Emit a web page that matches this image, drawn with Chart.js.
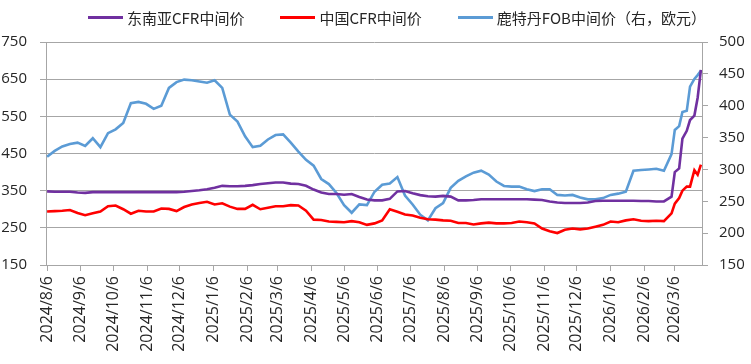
<!DOCTYPE html>
<html>
<head>
<meta charset="utf-8">
<script src="https://cdn.jsdelivr.net/npm/chart.js@4.4.1/dist/chart.umd.min.js"></script>
<style>
    body { margin: 0; background: #fff; }
    #wrap { position: relative; width: 751px; height: 364px; }
    #legend { position: absolute; top: 7px; left: 88px; display: flex; align-items: center;
        font-family: "Noto Sans CJK SC", sans-serif; font-size: 15px; color: #262626; white-space: nowrap; }
    .item { display: flex; align-items: center; margin-right: 36px; }
    .swatch { width: 35px; height: 3px; margin-right: 4px; }
</style>
</head>
<body>
<div id="wrap">
    <canvas id="chart" width="751" height="364"></canvas>
    <div id="legend"></div>
</div>
<script>
// weekly observation dates (denser in the last month)
const dates = [
    '2024-08-06','2024-08-13','2024-08-20','2024-08-27','2024-09-03','2024-09-10','2024-09-17','2024-09-24','2024-10-01','2024-10-08',
    '2024-10-15','2024-10-22','2024-10-29','2024-11-05','2024-11-12','2024-11-19','2024-11-26','2024-12-03','2024-12-10','2024-12-17',
    '2024-12-24','2024-12-31','2025-01-07','2025-01-14','2025-01-21','2025-01-28','2025-02-04','2025-02-11','2025-02-18','2025-02-25',
    '2025-03-04','2025-03-11','2025-03-18','2025-03-25','2025-04-01','2025-04-08','2025-04-15','2025-04-22','2025-04-29','2025-05-06',
    '2025-05-13','2025-05-20','2025-05-27','2025-06-03','2025-06-10','2025-06-17','2025-06-24','2025-07-01','2025-07-08','2025-07-15',
    '2025-07-22','2025-07-29','2025-08-05','2025-08-12','2025-08-19','2025-08-26','2025-09-02','2025-09-09','2025-09-16','2025-09-23',
    '2025-09-30','2025-10-07','2025-10-14','2025-10-21','2025-10-28','2025-11-04','2025-11-11','2025-11-18','2025-11-25','2025-12-02',
    '2025-12-09','2025-12-16','2025-12-23','2025-12-30','2026-01-06','2026-01-13','2026-01-20','2026-01-27','2026-02-03','2026-02-10',
    '2026-02-17','2026-02-24','2026-03-03','2026-03-06','2026-03-10','2026-03-13','2026-03-17','2026-03-20','2026-03-24','2026-03-27',
    '2026-03-30'
];
// 东南亚CFR中间价 (left axis)
const seAsia = [
    348, 347, 347, 347, 345, 344, 346, 346, 346, 346,
    346, 346, 346, 346, 346, 346, 346, 346, 347, 349,
    351, 354, 358, 363, 362, 362, 363, 365, 368, 370,
    372, 372, 369, 368, 363, 353, 345, 341, 341, 339,
    341, 333, 326, 324, 324, 328, 348, 349, 343, 338,
    335, 334, 336, 334, 324, 324, 325, 327, 327, 327,
    327, 327, 327, 327, 326, 325, 321, 318, 317, 317,
    317, 318, 322, 323, 323, 323, 323, 323, 322, 322,
    321, 321, 334, 400, 410, 490, 511, 540, 552, 600,
    675
];
// 中国CFR中间价 (left axis)
const china = [
    294, 295, 296, 298, 290, 284, 289, 294, 308, 310,
    300, 288, 296, 294, 294, 302, 301, 295, 306, 313,
    317, 320, 313, 316, 307, 301, 301, 312, 300, 304,
    308, 308, 311, 310, 296, 272, 271, 267, 266, 265,
    268, 265, 258, 262, 270, 300, 293, 286, 283, 277,
    273, 272, 270, 269, 263, 263, 259, 262, 264, 262,
    262, 263, 267, 265, 262, 248, 241, 236, 245, 248,
    246, 248, 253, 258, 267, 265, 270, 273, 269, 268,
    269, 268, 289, 315, 330, 350, 361, 361, 405, 393,
    420
];
// 鹿特丹FOB中间价 (right axis, EUR)
const rotterdam = [
    320, 329, 336, 340, 342, 337, 349, 335, 357, 363,
    373, 404, 406, 403, 395, 400, 428, 437, 441, 440,
    438, 436, 440, 428, 386, 375, 352, 335, 337, 347,
    354, 355, 342, 328, 315, 306, 285, 277, 263, 244,
    232, 245, 244, 265, 276, 278, 288, 259, 245, 229,
    220, 239, 247, 271, 282, 289, 295, 298, 292, 281,
    274, 273, 273, 269, 266, 269, 269, 260, 259, 260,
    256, 253, 253, 255, 260, 262, 265, 298, 299, 300,
    301, 298, 324, 362, 368, 390, 392, 430, 442, 448,
    455
];
const tickLabels = ['2024/8/6','2024/9/6','2024/10/6','2024/11/6','2024/12/6','2025/1/6','2025/2/6','2025/3/6',
    '2025/4/6','2025/5/6','2025/6/6','2025/7/6','2025/8/6','2025/9/6','2025/10/6','2025/11/6','2025/12/6',
    '2026/1/6','2026/2/6','2026/3/6'];
const seriesNames = ['东南亚CFR中间价', '中国CFR中间价', '鹿特丹FOB中间价（右，欧元）'];
const seriesColors = ['#7030A0', '#FF0000', '#5B9BD5'];

function dayOf(s) {
    const p = s.split(/[-\/]/).map(Number);
    return (Date.UTC(p[0], p[1] - 1, p[2]) - Date.UTC(2024, 7, 6)) / 86400000;
}
const tickDays = tickLabels.map(dayOf);

window.addEventListener('load', function() {
    const gridColor = '#a6a6a6';
    const textColor = '#262626';
    const toPoints = vals => dates.map((d, i) => ({x: dayOf(d), y: vals[i]}));
    const series = [seAsia, china, rotterdam];
    const axes = ['y', 'y', 'y1'];

    const config = {
        type: 'line',
        data: {
            datasets: series.map((vals, i) => ({
                label: seriesNames[i],
                data: toPoints(vals),
                borderColor: seriesColors[i],
                backgroundColor: seriesColors[i],
                borderWidth: 2.6,
                pointRadius: 0,
                tension: 0,
                yAxisID: axes[i]
            }))
        },
        options: {
            responsive: false,
            devicePixelRatio: 1,
            animation: false,
            layout: { padding: { top: 42, left: 0, right: 0, bottom: 0 } },
            plugins: {
                legend: { display: false },
                tooltip: { enabled: false }
            },
            scales: {
                x: {
                    type: 'linear',
                    min: -1,
                    max: 602,
                    afterBuildTicks: s => { s.ticks = tickDays.map(v => ({value: v})); },
                    afterFit: s => { s.height = 99; },
                    grid: { drawOnChartArea: false, tickLength: 6, color: gridColor },
                    border: { color: gridColor },
                    ticks: {
                        autoSkip: false,
                        minRotation: 90,
                        maxRotation: 90,
                        padding: 5,
                        color: textColor,
                        font: { family: 'Open Sans', size: 16 },
                        callback: v => {
                            const i = tickDays.indexOf(v);
                            return i >= 0 ? tickLabels[i] : '';
                        }
                    }
                },
                y: {
                    position: 'left',
                    min: 150,
                    max: 750,
                    afterFit: s => { s.width = 46; },
                    grid: { color: gridColor, tickLength: 6 },
                    border: { color: gridColor },
                    ticks: { stepSize: 100, padding: 13, color: textColor, font: { family: 'Open Sans', size: 15 } }
                },
                y1: {
                    position: 'right',
                    min: 150,
                    max: 500,
                    afterFit: s => { s.width = 49; },
                    grid: { drawOnChartArea: false, tickLength: 6, color: gridColor },
                    border: { color: gridColor },
                    ticks: { stepSize: 50, padding: 11, color: textColor, font: { family: 'Open Sans', size: 15 } }
                }
            }
        }
    };
    new Chart(document.getElementById('chart'), config);

    // legend as html text
    const legend = document.getElementById('legend');
    seriesNames.forEach((name, i) => {
        const item = document.createElement('div');
        item.className = 'item';
        const sw = document.createElement('span');
        sw.className = 'swatch';
        sw.style.background = seriesColors[i];
        const tx = document.createElement('span');
        tx.textContent = name;
        item.appendChild(sw);
        item.appendChild(tx);
        legend.appendChild(item);
    });
});
</script>
</body>
</html>
